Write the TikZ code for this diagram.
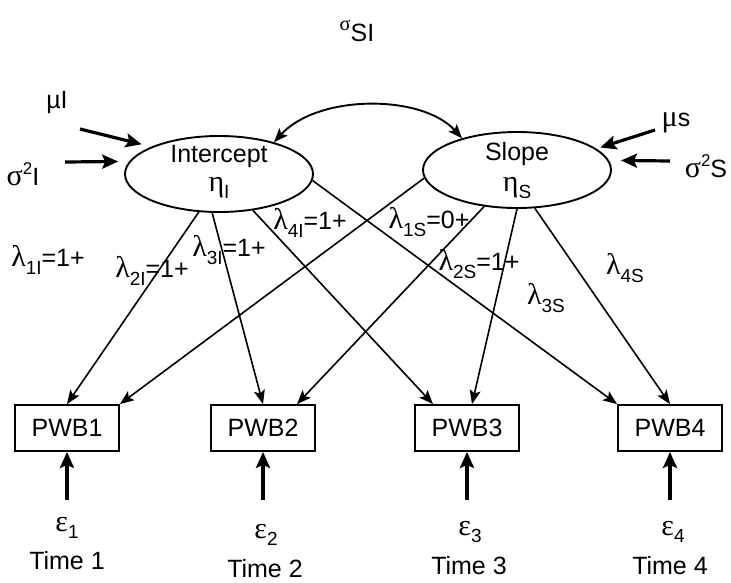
\documentclass[tikz,border=0pt]{standalone}
\usepackage{fontspec}
\setmainfont{Liberation Sans}
\newfontfamily\grk[Scale=1.2]{Liberation Serif}
\usetikzlibrary{shapes.geometric,arrows.meta}
\newcommand{\sbs}[1]{\raisebox{-0.3em}{\fontsize{19}{19}\selectfont #1}}
\newcommand{\sps}[1]{\raisebox{0.45em}{\fontsize{17}{17}\selectfont #1}}
\begin{document}
\begin{tikzpicture}[x=1pt,y=-1pt,
  every node/.style={font=\fontsize{25}{27}\selectfont, inner sep=0pt},
  lat/.style={ellipse, draw, line width=1.9pt, minimum width=188pt, minimum height=76pt},
  obs/.style={rectangle, draw, line width=1.8pt, minimum width=104pt, minimum height=46pt},
  load/.style={line width=1.6pt, -{Stealth[length=14pt,width=11pt,inset=3pt]}},
  cov/.style={line width=1.9pt, {Stealth[length=14pt,width=11pt,inset=3pt]}-{Stealth[length=14pt,width=11pt,inset=3pt]}},
  thk/.style={line width=3.2pt, -{Stealth[length=16pt,width=14pt,inset=3pt]}}
]
\useasboundingbox (0,0) rectangle (731,582);

% latent factors
\node[lat] (I) at (219,174) {};
\node (It) at (219,156) {Intercept};
\node (Ie) at (219,188) {{\grk η}\sbs{I}};
\node[lat] (S) at (517,170) {};
\node (St) at (517,154) {Slope};
\node (Se) at (517,188) {{\grk η}\sbs{S}};

% observed
\node[obs] (P1) at (67,428) {PWB1};
\node[obs] (P2) at (263,428) {PWB2};
\node[obs] (P3) at (467,428) {PWB3};
\node[obs] (P4) at (670,428) {PWB4};

% errors and time labels
\node (e1) at (67,528) {{\grk ε}\sbs{1}};
\node (e2) at (266,535) {{\grk ε}\sbs{2}};
\node (e3) at (470,532) {{\grk ε}\sbs{3}};
\node (e4) at (673,532) {{\grk ε}\sbs{4}};
\node (t1) at (67,561) {Time 1};
\node (t2) at (265,569) {Time 2};
\node (t3) at (469,566) {Time 3};
\node (t4) at (670,566) {Time 4};
\coordinate (a1) at (67,500);
\coordinate (a2) at (263,500);
\coordinate (a3) at (467,500);
\coordinate (a4) at (670,500);
\draw[thk] (a1) -- (P1.south);
\draw[thk] (a2) -- (P2.south);
\draw[thk] (a3) -- (P3.south);
\draw[thk] (a4) -- (P4.south);

% means and variances
\node (sSI) at (357,31) {\sps{\grk σ}SI};
\node (muI) at (57,102) {µI};
\node (s2I) at (23,174) {{\grk σ}\sps{2}I};
\node (muS) at (676,123) {{\grk μ}s};
\node (s2S) at (706,166) {{\grk σ}\sps{2}S};
\coordinate (muIa) at (80,129);
\coordinate (sigIa) at (65,162);
\coordinate (musa) at (655,130);
\coordinate (sigSa) at (670,161);
\draw[thk, shorten >=10pt] (muIa) -- (I.158);
\draw[thk, shorten >=11pt] (sigIa) -- (I.172);
\draw[thk, shorten >=4pt] (musa) -- (S.15);
\draw[thk, shorten >=12pt] (sigSa) -- (S.6);

% covariance
\draw[cov] (I.30) .. controls (318,94) and (422,94) .. (S.150);

% loadings
\draw[load] (I.242) -- (P1.north);
\draw[load] (I.260) -- (P2.north);
\draw[load] (I.313) -- ([xshift=-34pt]P3.north);
\draw[load] (I.356) -- (P4.north west);
\draw[load] (S.185) -- (P1.north east);
\draw[load] (S.228) -- ([xshift=34pt]P2.north);
\draw[load] (S.270) -- ([xshift=5pt]P3.north);
\draw[load] (S.295) -- (P4.north);

% loading labels
\node (l1I) at (48,260) {{\grk λ}\sbs{1I}=1+};
\node (l2I) at (152,271) {{\grk λ}\sbs{2I}=1+};
\node (l3I) at (229,250) {{\grk λ}\sbs{3I}=1+};
\node (l4I) at (310,223) {{\grk λ}\sbs{4I}=1+};
\node (l1S) at (429,222) {{\grk λ}\sbs{1S}=0+};
\node (l2S) at (479,264) {{\grk λ}\sbs{2S}=1+};
\node (l3S) at (546,298) {{\grk λ}\sbs{3S}};
\node (l4S) at (625,268) {{\grk λ}\sbs{4S}};
\end{tikzpicture}
\end{document}
